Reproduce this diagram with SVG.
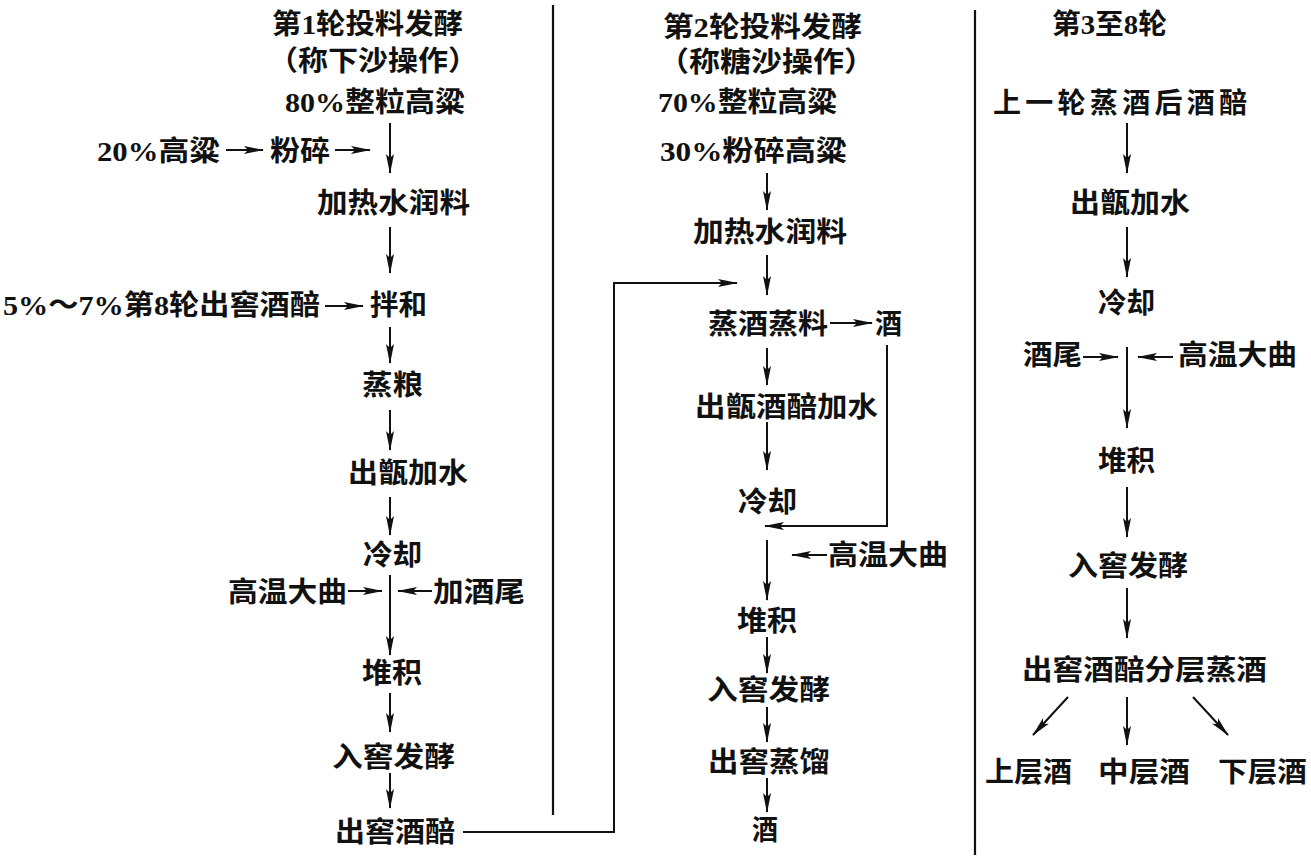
<svg xmlns="http://www.w3.org/2000/svg" width="1311" height="858" viewBox="0 0 1311 858">
<style>
text{font-family:"Liberation Serif","Noto Sans CJK SC",serif;font-size:28px;font-weight:bold;fill:#111;dominant-baseline:central}
.c{fill:none;stroke:#111;stroke-width:2}
.a{marker-end:url(#ah)}
.d{fill:none;stroke:#111;stroke-width:2.2}
</style>
<defs>
<marker id="ah" markerUnits="userSpaceOnUse" viewBox="0 0 20 9" markerWidth="20" markerHeight="9" refX="19" refY="4.5" orient="auto">
<path d="M0,0.5 L20,4.5 L0,8.5 L4,4.5 z" fill="#111"/>
</marker>
</defs>
<rect width="1311" height="858" fill="#fff"/>
<g id="dividers">
<line class="d" x1="553" y1="5" x2="553" y2="815"/>
<line class="d" x1="975" y1="10" x2="975" y2="855"/>
</g>
<g id="col1">
<g id="l_title1"><text x="272" y="24" textLength="191" lengthAdjust="spacingAndGlyphs">第1轮投料发酵</text></g>
<g id="l_title2"><text x="268" y="61" textLength="210" lengthAdjust="spacingAndGlyphs">（称下沙操作）</text></g>
<g id="l_n1"><text x="285" y="102" textLength="180" lengthAdjust="spacingAndGlyphs">80%整粒高粱</text></g>
<g id="l_n2"><text x="97" y="151" textLength="123" lengthAdjust="spacingAndGlyphs">20%高粱</text></g>
<g id="l_n3"><text x="270" y="151" textLength="60" lengthAdjust="spacingAndGlyphs">粉碎</text></g>
<g id="l_n4"><text x="317" y="203" textLength="153" lengthAdjust="spacingAndGlyphs">加热水润料</text></g>
<g id="l_n5"><text x="3" y="305" textLength="317" lengthAdjust="spacingAndGlyphs">5%～7%第8轮出窖酒醅</text></g>
<g id="l_n6"><text x="370" y="305" textLength="57" lengthAdjust="spacingAndGlyphs">拌和</text></g>
<g id="l_n7"><text x="362" y="385" textLength="61" lengthAdjust="spacingAndGlyphs">蒸粮</text></g>
<g id="l_n8"><text x="348" y="473" textLength="120" lengthAdjust="spacingAndGlyphs">出甑加水</text></g>
<g id="l_n9"><text x="363" y="555" textLength="59" lengthAdjust="spacingAndGlyphs">冷却</text></g>
<g id="l_n10"><text x="228" y="592" textLength="119" lengthAdjust="spacingAndGlyphs">高温大曲</text></g>
<g id="l_n11"><text x="433" y="592" textLength="92" lengthAdjust="spacingAndGlyphs">加酒尾</text></g>
<g id="l_n12"><text x="362" y="673" textLength="60" lengthAdjust="spacingAndGlyphs">堆积</text></g>
<g id="l_n13"><text x="332" y="757" textLength="123" lengthAdjust="spacingAndGlyphs">入窖发酵</text></g>
<g id="l_n14"><text x="335" y="832" textLength="120" lengthAdjust="spacingAndGlyphs">出窖酒醅</text></g>
</g>
<g id="col2">
<g id="m_title1"><text x="663" y="27" textLength="199" lengthAdjust="spacingAndGlyphs">第2轮投料发酵</text></g>
<g id="m_title2"><text x="658" y="62" textLength="217" lengthAdjust="spacingAndGlyphs">（称糖沙操作）</text></g>
<g id="m_n1"><text x="658" y="102" textLength="179" lengthAdjust="spacingAndGlyphs">70%整粒高粱</text></g>
<g id="m_n2"><text x="660" y="151" textLength="187" lengthAdjust="spacingAndGlyphs">30%粉碎高粱</text></g>
<g id="m_n3"><text x="693" y="232" textLength="154" lengthAdjust="spacingAndGlyphs">加热水润料</text></g>
<g id="m_n4"><text x="708" y="324" textLength="120" lengthAdjust="spacingAndGlyphs">蒸酒蒸料</text></g>
<g id="m_n5"><text x="875" y="324" textLength="27" lengthAdjust="spacingAndGlyphs">酒</text></g>
<g id="m_n6"><text x="695" y="407" textLength="183" lengthAdjust="spacingAndGlyphs">出甑酒醅加水</text></g>
<g id="m_n7"><text x="738" y="502" textLength="59" lengthAdjust="spacingAndGlyphs">冷却</text></g>
<g id="m_n8"><text x="828" y="555" textLength="120" lengthAdjust="spacingAndGlyphs">高温大曲</text></g>
<g id="m_n9"><text x="737" y="621" textLength="60" lengthAdjust="spacingAndGlyphs">堆积</text></g>
<g id="m_n10"><text x="707" y="690" textLength="123" lengthAdjust="spacingAndGlyphs">入窖发酵</text></g>
<g id="m_n11"><text x="708" y="762" textLength="122" lengthAdjust="spacingAndGlyphs">出窖蒸馏</text></g>
<g id="m_n12"><text x="752" y="830" textLength="26" lengthAdjust="spacingAndGlyphs">酒</text></g>
</g>
<g id="col3">
<g id="r_title"><text x="1052" y="24" textLength="115" lengthAdjust="spacingAndGlyphs">第3至8轮</text></g>
<g id="r_n1"><text x="993" y="103" textLength="254" lengthAdjust="spacing">上一轮蒸酒后酒醅</text></g>
<g id="r_n2"><text x="1070" y="203" textLength="120" lengthAdjust="spacingAndGlyphs">出甑加水</text></g>
<g id="r_n3"><text x="1098" y="303" textLength="57" lengthAdjust="spacingAndGlyphs">冷却</text></g>
<g id="r_n4"><text x="1023" y="355" textLength="59" lengthAdjust="spacingAndGlyphs">酒尾</text></g>
<g id="r_n5"><text x="1178" y="355" textLength="119" lengthAdjust="spacingAndGlyphs">高温大曲</text></g>
<g id="r_n6"><text x="1098" y="461" textLength="57" lengthAdjust="spacingAndGlyphs">堆积</text></g>
<g id="r_n7"><text x="1068" y="566" textLength="120" lengthAdjust="spacingAndGlyphs">入窖发酵</text></g>
<g id="r_n8"><text x="1022" y="670" textLength="245" lengthAdjust="spacingAndGlyphs">出窖酒醅分层蒸酒</text></g>
<g id="r_n9"><text x="985" y="772" textLength="87" lengthAdjust="spacingAndGlyphs">上层酒</text></g>
<g id="r_n10"><text x="1098" y="772" textLength="92" lengthAdjust="spacingAndGlyphs">中层酒</text></g>
<g id="r_n11"><text x="1218" y="772" textLength="89" lengthAdjust="spacingAndGlyphs">下层酒</text></g>
</g>
<g id="connectors">
<line class="c a" x1="226" y1="150" x2="263" y2="150"/>
<line class="c a" x1="335" y1="150" x2="370" y2="150"/>
<line class="c a" x1="390" y1="123" x2="390" y2="173"/>
<line class="c a" x1="390" y1="227" x2="390" y2="273"/>
<line class="c a" x1="325" y1="306" x2="363" y2="306"/>
<line class="c a" x1="390" y1="327" x2="390" y2="363"/>
<line class="c a" x1="390" y1="410" x2="390" y2="450"/>
<line class="c a" x1="390" y1="497" x2="390" y2="535"/>
<line class="c a" x1="348" y1="591" x2="382" y2="591"/>
<line class="c a" x1="432" y1="591" x2="398" y2="591"/>
<line class="c a" x1="390" y1="575" x2="390" y2="655"/>
<line class="c a" x1="390" y1="693" x2="390" y2="732"/>
<line class="c a" x1="390" y1="773" x2="390" y2="808"/>
<polyline class="c a" points="463,832 614,832 614,283 737,283"/>
<line class="c a" x1="767" y1="173" x2="767" y2="210"/>
<line class="c a" x1="767" y1="255" x2="767" y2="295"/>
<line class="c a" x1="830" y1="323" x2="872" y2="323"/>
<polyline class="c a" points="887,345 887,526 765,526"/>
<line class="c a" x1="767" y1="348" x2="767" y2="385"/>
<line class="c a" x1="767" y1="422" x2="767" y2="470"/>
<line class="c a" x1="767" y1="540" x2="767" y2="600"/>
<line class="c a" x1="827" y1="555" x2="792" y2="555"/>
<line class="c a" x1="767" y1="637" x2="767" y2="673"/>
<line class="c a" x1="767" y1="707" x2="767" y2="742"/>
<line class="c a" x1="767" y1="778" x2="767" y2="812"/>
<line class="c a" x1="1127" y1="123" x2="1127" y2="173"/>
<line class="c a" x1="1127" y1="227" x2="1127" y2="277"/>
<line class="c a" x1="1083" y1="357" x2="1118" y2="357"/>
<line class="c a" x1="1173" y1="357" x2="1138" y2="357"/>
<line class="c a" x1="1127" y1="347" x2="1127" y2="428"/>
<line class="c a" x1="1127" y1="487" x2="1127" y2="537"/>
<line class="c a" x1="1127" y1="588" x2="1127" y2="638"/>
<line class="c a" x1="1068" y1="697" x2="1033" y2="735"/>
<line class="c a" x1="1127" y1="697" x2="1127" y2="745"/>
<line class="c a" x1="1193" y1="697" x2="1228" y2="735"/>
</g>
</svg>
